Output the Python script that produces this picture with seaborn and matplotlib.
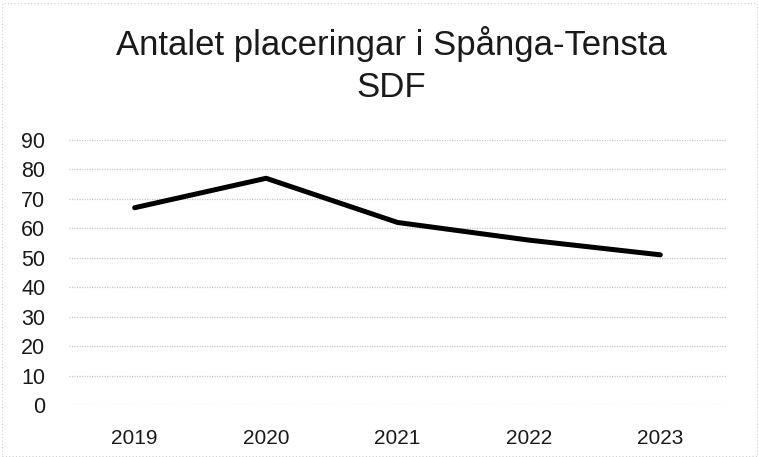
import pandas as pd
import seaborn as sns
import matplotlib.pyplot as plt

# Data
years = ['2019', '2020', '2021', '2022', '2023']
placements = [67, 77, 62, 56, 51]

df = pd.DataFrame({'year': years, 'placements': placements})

sns.set_style('white')
plt.rcParams['font.family'] = ['Liberation Sans', 'DejaVu Sans']

fig = plt.figure(figsize=(7.59, 4.57), dpi=100)
ax = fig.add_axes([69 / 759, 1 - 405 / 457, (726 - 69) / 759, (405 - 140) / 457])

sns.lineplot(data=df, x='year', y='placements', color='black', linewidth=3.6,
             sort=False, ax=ax)

ax.set_ylim(0, 90)
ax.set_xlim(-0.5, 4.5)
ax.set_yticks(range(0, 91, 10))
ax.grid(axis='y', color='#c8c8c8', linewidth=0.9, linestyle=(0, (1, 1)))
ax.set_axisbelow(True)
ax.set_xlabel('')
ax.set_ylabel('')
for s in ax.spines.values():
    s.set_visible(False)
ax.tick_params(axis='both', labelsize=15.5, length=0, colors='#1a1a1a')
ax.tick_params(axis='x', labelsize=15)
ax.tick_params(axis='y', pad=17)
ax.tick_params(axis='x', pad=17)

fig.text(391 / 759, 1 - 65 / 457, 'Antalet placeringar i Spånga-Tensta\nSDF',
         ha='center', va='center', fontsize=25, color='#1a1a1a', linespacing=1.33)

# faint chart border
fig.patches.append(plt.Rectangle((0.003, 0.003), 0.994, 0.99, transform=fig.transFigure,
                                 fill=False, edgecolor='#d0d0d0', linewidth=0.8,
                                 linestyle=(0, (1, 2))))

fig.savefig('out.png', dpi=100)
